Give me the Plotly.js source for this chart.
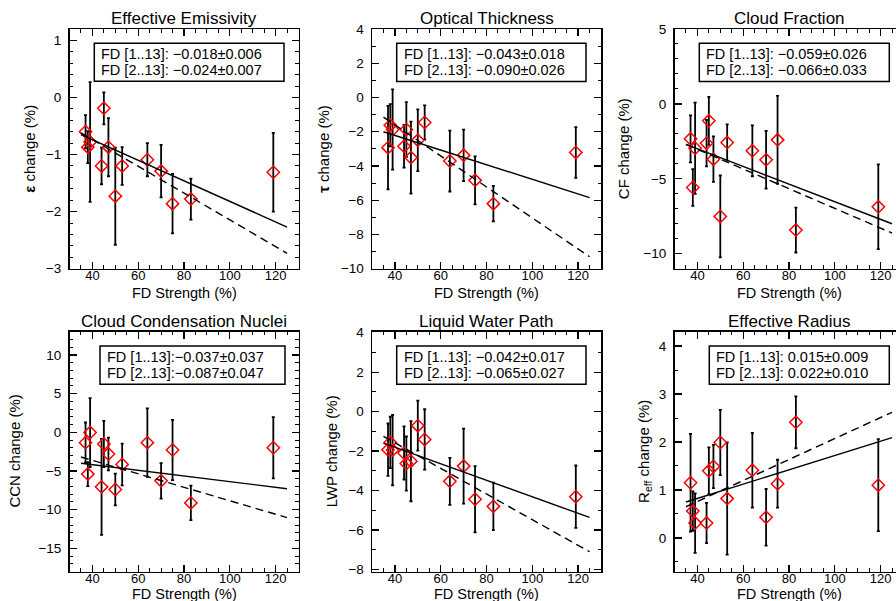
<!DOCTYPE html>
<html><head><meta charset="utf-8">
<script src="https://cdn.plot.ly/plotly-3.0.1.min.js"></script>
<style>html,body{margin:0;padding:0;overflow:hidden;background:#fff}#chart{width:905px;height:601px}</style>
</head><body><div id="chart"></div>
<script>
// ---------- data ----------
const fdStrength = [37, 38, 39, 44, 45, 47, 50, 53, 64, 70, 75, 83, 119];

const panelTitles = ["Effective Emissivity", "Optical Thickness", "Cloud Fraction",
                     "Cloud Condensation Nuclei", "Liquid Water Path", "Effective Radius"];
const yTitles = ["<b>\u03b5</b> change (%)", "<b>\u03c4</b> change (%)", "CF change (%)",
                 "CCN change (%)", "LWP change (%)", "R<sub>eff</sub> change (%)"];
const xTitle = "FD Strength (%)";

const emisChange = [-0.60, -0.87, -0.78, -1.20, -0.19, -0.87, -1.73, -1.20, -1.09, -1.29, -1.86, -1.78, -1.31];
const emisErr    = [0.29, 0.28, 1.05, 0.32, 0.28, 0.51, 0.85, 0.33, 0.29, 0.46, 0.52, 0.36, 0.69];

const tauChange = [-2.93, -1.62, -1.87, -2.85, -1.87, -3.51, -2.50, -1.46, -3.71, -3.38, -4.84, -6.20, -3.21];
const tauErr    = [2.44, 1.23, 2.34, 1.25, 1.60, 2.10, 1.80, 1.00, 1.78, 1.50, 1.40, 1.04, 1.48];

const cfChange = [-2.33, -5.58, -2.96, -2.62, -1.13, -3.69, -7.51, -2.58, -3.13, -3.73, -2.40, -8.42, -6.87];
const cfErr    = [1.57, 1.22, 3.05, 1.55, 1.60, 1.52, 2.73, 1.21, 1.70, 1.92, 2.93, 1.50, 2.83];

const ccnChange = [-1.34, -5.41, -0.04, -7.06, -1.52, -2.81, -7.40, -4.16, -1.34, -6.28, -2.29, -9.13, -2.00];
const ccnErr    = [2.60, 1.55, 4.45, 6.20, 2.99, 2.12, 2.06, 2.70, 4.44, 2.30, 3.90, 2.23, 3.96];

const lwpChange = [-1.93, -1.56, -1.95, -2.10, -2.63, -2.51, -0.71, -1.41, -3.53, -2.76, -4.44, -4.80, -4.31];
const lwpErr    = [1.33, 1.30, 1.78, 1.35, 1.37, 2.03, 1.27, 1.53, 1.19, 1.90, 1.68, 1.20, 1.58];

const reffChange = [1.15, 0.56, 0.31, 0.31, 1.40, 1.49, 1.99, 0.82, 1.41, 0.43, 1.13, 2.41, 1.10];
const reffErr    = [1.02, 0.41, 0.62, 0.42, 0.49, 0.45, 0.68, 1.17, 0.78, 0.59, 0.50, 0.54, 0.96];

// fitted lines (end points)
const fitX = [35, 125];
const emisFitAll = [-0.65, -2.27],  emisFitNo1 = [-0.62, -2.73];
const tauFitAll  = [-2.00, -5.85],  tauFitNo1  = [-1.15, -9.30];
const cfFitAll   = [-2.70, -8.00],  cfFitNo1   = [-2.70, -8.62];
const ccnFitAll  = [-4.00, -7.30],  ccnFitNo1  = [-3.20, -11.03];
const lwpFitAll  = [-1.60, -5.36],  lwpFitNo1  = [-1.25, -7.10];
const reffFitAll = [0.75, 2.09],    reffFitNo1 = [0.65, 2.62];

const fitLabelAll = ["FD [1..13]: \u22120.018\u00b10.006", "FD [1..13]: \u22120.043\u00b10.018",
                     "FD [1..13]: \u22120.059\u00b10.026", "FD [1..13]:\u22120.037\u00b10.037",
                     "FD [1..13]: \u22120.042\u00b10.017", "FD [1..13]: 0.015\u00b10.009"];
const fitLabelNo1 = ["FD [2..13]: \u22120.024\u00b10.007", "FD [2..13]: \u22120.090\u00b10.026",
                     "FD [2..13]: \u22120.066\u00b10.033", "FD [2..13]:\u22120.087\u00b10.047",
                     "FD [2..13]: \u22120.065\u00b10.027", "FD [2..13]: 0.022\u00b10.010"];

const xRange = [30, 130];
const yRanges = [[-3, 1.2], [-10, 4], [-11, 5], [-18, 13], [-8.1, 4.05], [-0.7, 4.3]];
const yDtick = [1, 2, 5, 5, 2, 1];
const yMinor = [0.2, 1, 1, 1, 1, 0.5];

const series = [
  {y: emisChange, e: emisErr, a: emisFitAll, b: emisFitNo1},
  {y: tauChange,  e: tauErr,  a: tauFitAll,  b: tauFitNo1},
  {y: cfChange,   e: cfErr,   a: cfFitAll,   b: cfFitNo1},
  {y: ccnChange,  e: ccnErr,  a: ccnFitAll,  b: ccnFitNo1},
  {y: lwpChange,  e: lwpErr,  a: lwpFitAll,  b: lwpFitNo1},
  {y: reffChange, e: reffErr, a: reffFitAll, b: reffFitNo1}
];

// ---------- layout geometry (pixels) ----------
const W = 905, H = 601;
const cols = [[69.5, 298.5], [372, 601], [674.5, 903.5]];
const rows = [[29, 268.7], [331.7, 571.5]];
const boxes = [[94.3, 284, 43.3, 81.3], [396.7, 586, 43.3, 81.5], [699.3, 889.3, 43.3, 81.5],
               [100, 285, 346, 384.3], [396.7, 586, 346, 384.3], [709.3, 889.3, 346, 384.3]];
const yTitleX = [30, 324, 624.3, 15, 331.7, 644.3];
const xTitleY = [293, 594];
const xLabelShift = [-6, -6];
const FONT = "Liberation Sans, Arial, sans-serif";
const px = v => v / W, py = v => 1 - v / H;

const traces = [];
const layout = {
  width: W, height: H, showlegend: false,
  margin: {l: 0, r: 0, t: 0, b: 0},
  paper_bgcolor: "#fff", plot_bgcolor: "#fff",
  font: {family: FONT, color: "#000"},
  annotations: [], shapes: []
};

for (let i = 0; i < 6; i++) {
  const row = Math.floor(i / 3);
  const c = cols[i % 3], r = rows[row];
  const n = i === 0 ? "" : String(i + 1);
  const xa = "x" + n, ya = "y" + n;
  const s = series[i];
  traces.push({
    type: "scatter", mode: "markers", x: fdStrength, y: s.y, xaxis: xa, yaxis: ya,
    marker: {symbol: "diamond-open", size: 9.5, color: "#ff0000", line: {width: 1.5, color: "#ff0000"}},
    error_y: {type: "data", array: s.e, visible: true, color: "#000", thickness: 1.8, width: 1.5}
  });
  traces.push({type: "scatter", mode: "lines", x: fitX, y: s.a, xaxis: xa, yaxis: ya,
    line: {color: "#000", width: 1.4}});
  traces.push({type: "scatter", mode: "lines", x: fitX, y: s.b, xaxis: xa, yaxis: ya,
    line: {color: "#000", width: 1.4, dash: "8px,5px"}});

  const common = {showline: true, linecolor: "#000", linewidth: 1.5, mirror: "ticks",
    ticks: "inside", ticklen: 7, tickwidth: 1.3, tickcolor: "#000", showgrid: false, zeroline: false,
    tickfont: {size: 13.5, family: FONT, color: "#000"}, fixedrange: true};
  layout["xaxis" + n] = Object.assign({}, common, {
    domain: [px(c[0]), px(c[1])], anchor: ya, range: xRange, tick0: 40, dtick: 20,
    ticklabelstandoff: xLabelShift[row], tickfont: {size: 13, family: FONT, color: "#000"},
    minor: {dtick: 5, ticklen: 3.5, tickwidth: 1, ticks: "inside", tickcolor: "#000"}
  });
  layout["yaxis" + n] = Object.assign({}, common, {
    domain: [py(r[1]), py(r[0])], anchor: xa, range: yRanges[i], dtick: yDtick[i], tick0: 0,
    ticklabelstandoff: 4,
    minor: {dtick: yMinor[i], ticklen: 3.5, tickwidth: 1, ticks: "inside", tickcolor: "#000"}
  });

  // panel title
  layout.annotations.push({xref: "paper", yref: "paper", x: px((c[0] + c[1]) / 2), y: py(r[0] - 10.5),
    xanchor: "center", yanchor: "middle", showarrow: false, text: panelTitles[i],
    font: {size: 17, family: FONT, color: "#000"}});
  // x axis title
  layout.annotations.push({xref: "paper", yref: "paper", x: px((c[0] + c[1]) / 2),
    y: py(xTitleY[row]), xanchor: "center", yanchor: "middle", showarrow: false,
    text: xTitle, font: {size: 14.5, family: FONT, color: "#000"}});
  // y axis title
  layout.annotations.push({xref: "paper", yref: "paper", x: px(yTitleX[i]), y: py((r[0] + r[1]) / 2),
    xanchor: "center", yanchor: "middle", textangle: -90, showarrow: false,
    text: yTitles[i], font: {size: 15, family: FONT, color: "#000"}});

  // fit box
  const b = boxes[i];
  layout.shapes.push({type: "rect", xref: "paper", yref: "paper", x0: px(b[0]), x1: px(b[1]),
    y0: py(b[3]), y1: py(b[2]), line: {color: "#000", width: 1.5}, fillcolor: "rgba(0,0,0,0)"});
  layout.annotations.push({xref: "paper", yref: "paper", x: px(b[0] + 5), y: py(b[2] + 11),
    xanchor: "left", yanchor: "middle", showarrow: false, text: fitLabelAll[i],
    font: {size: 14.5, family: FONT, color: "#000"}});
  layout.annotations.push({xref: "paper", yref: "paper", x: px(b[0] + 5), y: py(b[2] + 26.7),
    xanchor: "left", yanchor: "middle", showarrow: false, text: fitLabelNo1[i],
    font: {size: 14.5, family: FONT, color: "#000"}});
}

Plotly.newPlot("chart", traces, layout, {displayModeBar: false, staticPlot: true});
</script></body></html>
